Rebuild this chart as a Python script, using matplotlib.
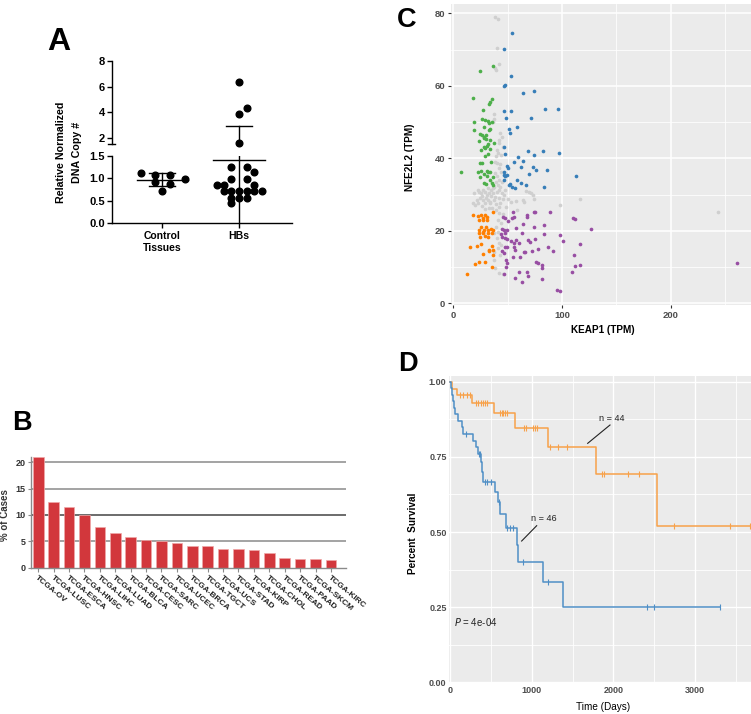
import numpy as np
import matplotlib
matplotlib.use("Agg")
import matplotlib.pyplot as plt
from matplotlib.ticker import MultipleLocator

plt.rcParams['font.family'] = ['Liberation Sans', 'DejaVu Sans']

W, H = 751, 714

# ---------------- Panel A data ----------------
groups_a = ["Control\nTissues", "HBs"]
control_vals = [1.13, 1.08, 1.08, 0.99, 0.92, 0.87, 0.71]
control_offsets = [-0.28, -0.095, 0.10, 0.295, -0.095, 0.10, 0.0]
hb_vals = [6.39, 4.36, 3.87, 1.59,
           1.25, 1.25, 1.14, 0.99, 0.99, 0.86, 0.86, 0.86,
           0.71, 0.71, 0.71, 0.71, 0.71, 0.71, 0.56, 0.56, 0.56, 0.45]
hb_offsets = [0.0, 0.11, 0.0, 0.0,
              -0.10, 0.10, 0.20, -0.10, 0.10, -0.29, -0.19, 0.20,
              -0.19, -0.10, 0.0, 0.10, 0.20, 0.30, -0.10, 0.0, 0.10, -0.10]
control_mean, control_sd = 0.97, 0.145
hb_mean, hb_sd = 1.40, 1.50

# ---------------- Panel B data ----------------
tcga = ["TCGA-OV", "TCGA-LUSC", "TCGA-ESCA", "TCGA-HNSC", "TCGA-LIHC", "TCGA-LUAD",
        "TCGA-BLCA", "TCGA-CESC", "TCGA-SARC", "TCGA-UCEC", "TCGA-BRCA", "TCGA-TGCT",
        "TCGA-UCS", "TCGA-STAD", "TCGA-KIRP", "TCGA-CHOL", "TCGA-READ", "TCGA-PAAD",
        "TCGA-SKCM", "TCGA-KIRC"]
pct_cases = [21.0, 12.5, 11.5, 10.0, 7.8, 6.5, 5.8, 5.3, 5.1, 4.7, 4.2, 4.05,
             3.6, 3.5, 3.35, 2.8, 1.8, 1.7, 1.7, 1.45]

# ---------------- Panel C data ----------------
grey_x = [38.8, 41.5, 40.0, 42.5, 38.8, 39.0, 37.8, 37.8, 36.3, 43.4,
          44.6, 41.8, 42.5, 45.5, 40.6, 41.5, 39.4, 38.5, 40.6, 41.8,
          43.7, 38.2, 40.0, 41.8, 40.9, 37.8, 43.1, 22.5, 24.0, 25.8,
          27.7, 28.9, 30.8, 33.2, 34.5, 36.3, 38.2, 40.0, 21.5, 22.8,
          24.6, 27.0, 29.5, 32.0, 34.2, 37.2, 39.4, 41.8, 43.1, 45.5,
          18.5, 20.3, 42.5, 45.0, 47.4, 67.1, 70.0, 71.7, 73.2, 64.0,
          65.0, 74.0, 53.0, 116.3, 97.8, 244.0, 39.4, 41.8, 40.9, 44.0,
          37.8, 40.0, 42.5, 40.9, 37.8, 43.1, 37.2, 38.8, 42.0, 45.5,
          30.0, 31.5, 35.0, 36.8, 33.5, 26.0, 44.5, 46.5, 39.0, 43.0,
          44.0, 46.0, 48.5, 50.5, 57.5, 58.5, 39.5, 41.5, 44.0, 36.0,
          42.0, 19.5, 26.5, 29.0, 32.5]
grey_y = [79.0, 78.5, 70.5, 66.0, 64.9, 64.4, 52.2, 50.9, 50.1, 46.9,
          46.0, 45.0, 44.1, 43.2, 42.3, 41.4, 40.5, 39.1, 38.6, 37.2,
          36.3, 35.9, 35.0, 34.0, 32.6, 32.2, 32.2, 31.3, 30.8, 30.3,
          31.3, 30.8, 29.9, 30.3, 31.3, 30.3, 29.4, 30.8, 28.5, 27.8,
          29.0, 28.5, 27.6, 28.5, 27.6, 28.5, 27.4, 29.0, 27.8, 28.7,
          27.6, 27.1, 31.3, 30.5, 31.3, 31.1, 30.7, 30.3, 29.9, 28.5,
          28.0, 28.7, 28.0, 28.9, 27.0, 25.3, 25.7, 24.8, 23.0, 22.1,
          19.3, 17.9, 16.6, 15.2, 14.1, 13.3, 12.0, 9.7, 8.3, 8.0,
          29.0, 31.8, 29.5, 31.9, 28.0, 29.5, 33.5, 30.0, 33.5, 38.5,
          40.8, 24.5, 26.5, 28.8, 28.2, 25.8, 21.0, 19.8, 16.0, 26.2,
          26.5, 30.5, 26.8, 26.0, 26.3]
green_x = [24.9, 36.3, 18.5, 36.0, 34.0, 33.2, 18.8, 18.8, 27.4, 26.5,
           28.9, 32.0, 33.2, 35.4, 28.6, 32.6, 34.2, 24.9, 26.8, 28.6,
           29.8, 24.0, 28.0, 30.5, 31.7, 34.2, 37.2, 28.0, 29.5, 30.8,
           33.5, 25.5, 32.0, 29.5, 24.6, 26.2, 35.0, 7.4, 22.8, 25.8,
           30.8, 32.3, 33.8, 28.6, 31.0, 36.3, 34.2, 24.6, 28.0, 30.2,
           35.7, 36.6]
green_y = [64.2, 65.5, 56.7, 56.3, 55.6, 55.0, 50.0, 47.8, 53.3, 50.9,
           50.6, 50.3, 49.7, 49.9, 48.5, 47.8, 48.0, 46.8, 46.4, 46.0,
           46.4, 44.7, 45.7, 45.3, 44.0, 45.0, 44.1, 43.2, 42.8, 43.5,
           42.6, 42.3, 41.1, 40.7, 38.6, 38.6, 39.0, 36.2, 36.3, 36.5,
           36.4, 36.2, 36.3, 35.7, 35.0, 34.9, 33.9, 34.8, 33.1, 32.8,
           33.1, 32.5]
blue_x = [54.2, 46.5, 53.5, 47.0, 48.0, 64.0, 74.5, 46.2, 53.5, 84.3,
          96.3, 71.7, 48.3, 50.8, 58.2, 52.0, 46.5, 69.0, 83.0, 97.5,
          47.4, 74.5, 60.0, 64.6, 56.0, 62.2, 73.0, 49.0, 50.5, 76.0,
          86.0, 46.5, 47.0, 47.4, 46.2, 49.5, 69.4, 113.0, 59.0, 62.0,
          66.5, 83.7, 52.0, 54.2, 56.6, 50.8]
blue_y = [74.5, 70.2, 62.7, 60.0, 60.2, 58.0, 58.6, 53.1, 53.1, 53.6,
          53.5, 51.0, 51.2, 48.2, 48.7, 46.9, 43.2, 42.1, 42.0, 41.6,
          41.1, 40.8, 40.3, 39.3, 39.0, 37.7, 37.7, 37.9, 37.2, 36.8,
          36.9, 36.1, 35.5, 35.1, 34.0, 35.4, 35.6, 35.0, 34.0, 33.3,
          32.6, 32.2, 32.8, 32.0, 31.9, 32.6]
orange_x = [18.5, 22.5, 25.5, 27.0, 28.9, 31.0, 36.3, 24.0, 27.7, 31.0,
            25.5, 30.2, 28.6, 27.0, 31.7, 34.8, 36.3, 23.4, 24.0, 27.7,
            32.3, 35.7, 24.6, 28.9, 31.7, 15.7, 21.8, 25.8, 35.7, 36.9,
            33.0, 36.3, 27.7, 33.2, 20.0, 24.0, 29.5, 35.7, 12.3]
orange_y = [24.4, 24.1, 24.3, 23.4, 24.4, 23.9, 25.1, 23.0, 23.0, 23.0,
            21.1, 21.1, 20.2, 19.8, 20.2, 20.4, 20.2, 20.2, 19.3, 19.3,
            19.3, 19.3, 18.4, 18.6, 18.4, 15.6, 15.8, 16.3, 15.9, 14.7,
            14.5, 13.3, 13.5, 14.8, 10.8, 11.5, 11.5, 10.1, 8.0]
purple_x = [55.4, 56.0, 53.8, 45.5, 47.4, 67.4, 68.0, 74.0, 75.3, 88.6,
            110.5, 112.0, 126.8, 45.0, 46.9, 49.3, 47.4, 44.3, 50.0, 64.0,
            62.8, 74.6, 83.4, 57.5, 48.0, 49.0, 45.2, 53.5, 55.7, 58.0,
            60.6, 68.9, 70.5, 75.3, 83.7, 97.8, 101.2, 116.9, 49.8, 47.4,
            56.0, 56.6, 65.0, 66.0, 72.6, 77.5, 86.8, 92.0, 44.9, 46.2,
            61.5, 48.6, 76.0, 77.8, 54.5, 81.8, 81.2, 49.5, 48.6, 60.3,
            68.0, 68.6, 57.0, 63.4, 81.2, 109.5, 112.0, 116.6, 111.0, 95.4,
            97.8, 261.0, 46.2]
purple_y = [25.1, 23.7, 23.4, 23.7, 23.4, 24.4, 23.7, 25.1, 25.1, 25.1,
            23.4, 23.2, 20.4, 20.4, 20.2, 20.2, 19.3, 19.0, 22.8, 21.9,
            19.3, 21.1, 21.6, 20.9, 18.1, 17.7, 18.2, 17.3, 16.6, 17.5,
            16.6, 17.5, 17.0, 17.7, 19.0, 18.9, 17.3, 16.3, 15.6, 15.4,
            15.6, 14.7, 14.2, 14.1, 14.3, 14.9, 15.4, 14.5, 14.3, 13.8,
            12.9, 12.0, 11.5, 11.2, 12.9, 9.7, 10.5, 11.0, 10.1, 8.7,
            8.5, 7.5, 7.1, 5.8, 6.6, 8.5, 10.4, 10.6, 13.2, 3.7,
            3.4, 11.0, 8.1]

# ---------------- Panel D data ----------------
hi_times = [0, 25, 90, 273, 542, 796, 1203, 1783, 2530, 3683]
hi_surv = [1.0, 0.977, 0.955, 0.928, 0.895, 0.847, 0.782, 0.693, 0.521, 0.521]
hi_censor = [122, 163, 204, 245, 318, 347, 376, 400, 429, 457, 612, 633, 653, 673, 694,
             906, 927, 1020, 1041, 1061, 1224, 1327, 1429, 1865, 1886, 2176, 2318,
             2735, 3429, 3673]
lo_times = [0, 8, 20, 33, 49, 61, 94, 143, 163, 278, 318, 347, 385, 395, 405, 551, 592,
            612, 686, 816, 829, 1143, 1388, 3298]
lo_surv = [1.0, 0.978, 0.957, 0.935, 0.913, 0.891, 0.870, 0.848, 0.826, 0.804, 0.783,
           0.761, 0.733, 0.700, 0.667, 0.632, 0.600, 0.560, 0.515, 0.457, 0.400, 0.333,
           0.250, 0.250]
lo_censor = [200, 355, 368, 429, 457, 498, 600, 702, 735, 767, 898, 1204, 2408, 2502, 3298]


def rect(l, t, r, b):
    return [l / W, 1 - b / H, (r - l) / W, (b - t) / H]


def ftext(x, y, s, **kw):
    return fig.text(x / W, 1 - y / H, s, **kw)


fig = plt.figure(figsize=(W / 100, H / 100), dpi=100)

# ================= Panel A =================
xl_a = (-0.656, 1.69)
axu = fig.add_axes(rect(112, 61, 292, 144.4))
axl = fig.add_axes(rect(112, 156, 292, 223.3))
for ax in (axu, axl):
    ax.set_xlim(*xl_a)
    ax.set_facecolor('none')
    for s in ('top', 'right'):
        ax.spines[s].set_visible(False)
    ax.spines['left'].set_linewidth(1.0)
    ax.tick_params(axis='y', direction='out', length=3.5, width=1.0, labelsize=8, pad=1.5)
axu.spines['bottom'].set_visible(False)
axu.set_xticks([])
axu.set_ylim(1.5, 8)
axu.set_yticks([2, 4, 6, 8])
axu.set_yticklabels(['2', '4', '6', '8'], fontweight='bold')
axu.plot([-4 / 180, 3 / 180], [0, 0], transform=axu.transAxes, color='black', lw=1.0, clip_on=False)
axl.set_ylim(0, 1.5)
axl.set_yticks([0, 0.5, 1.0, 1.5])
axl.set_yticklabels(['0.0', '0.5', '1.0', '1.5'], fontweight='bold')
axl.spines['bottom'].set_linewidth(1.0)
axl.set_xticks([0, 1])
axl.set_xticklabels(groups_a, fontweight='bold', fontsize=7.5, linespacing=1.2)
axl.tick_params(axis='x', direction='out', length=3.5, width=1.0, pad=2)

cx = [0 + o for o in control_offsets]
hx = np.array([1 + o for o in hb_offsets])
hv = np.array(hb_vals)
up = hv >= 1.5
axl.plot(cx, control_vals, 'o', color='black', ms=4.8, clip_on=False, zorder=3)
axl.plot(hx[~up], hv[~up], 'o', color='black', ms=4.8, clip_on=False, zorder=3)
axu.plot(hx[up], hv[up], 'o', color='black', ms=4.8, clip_on=False, zorder=3)
# control error bars
axl.plot([-0.33, 0.33], [control_mean] * 2, color='black', lw=1.0)
axl.plot([-0.17, 0.17], [control_mean + control_sd] * 2, color='black', lw=1.0)
axl.plot([-0.17, 0.17], [control_mean - control_sd] * 2, color='black', lw=1.0)
axl.plot([0, 0], [control_mean - control_sd, control_mean + control_sd], color='black', lw=1.0)
# HB error bars
axl.plot([0.66, 1.34], [hb_mean] * 2, color='black', lw=1.0)
axu.plot([0.83, 1.17], [hb_mean + hb_sd] * 2, color='black', lw=1.0)
axl.plot([1, 1], [max(hb_mean - hb_sd, 0), 1.5], color='black', lw=1.0)
axu.plot([1, 1], [1.5, hb_mean + hb_sd], color='black', lw=1.0)

ftext(69, 152, "Relative Normalized\nDNA Copy #", rotation=90, ha='center',
      va='center', fontsize=7.7, fontweight='bold', linespacing=1.7, multialignment='center')
ftext(47, 50, "A", fontsize=23, fontweight='bold', ha='left', va='baseline')

# ================= Panel B =================
axb = fig.add_axes(rect(31, 456.7, 346, 567.7))
xb = np.arange(len(tcga))
axb.set_xlim(-0.47, 19.98)
axb.set_ylim(0, 21.06)
for yv in [5, 10, 15, 20]:
    axb.axhline(yv, color='#444444' if yv == 10 else '#8A8A8A', lw=1.1, zorder=1)
axb.bar(xb, pct_cases, width=0.69, color='#D2373C', edgecolor='#F0A8A8', linewidth=0.5, zorder=2)
for s in ('top', 'right'):
    axb.spines[s].set_visible(False)
for s in ('left', 'bottom'):
    axb.spines[s].set_color('#8A8A8A')
    axb.spines[s].set_linewidth(1.0)
axb.set_yticks([0, 5, 10, 15, 20])
axb.set_yticklabels(['0', '5', '10', '15', '20'], fontweight='bold', fontsize=6.5, color='#333333')
axb.tick_params(axis='y', length=2, width=0.8, color='#8A8A8A', pad=2)
axb.set_xticks(xb)
axb.set_xticklabels(tcga, rotation=-40, ha='left', va='top', rotation_mode='anchor',
                    fontsize=6, fontweight='bold', color='#222222')
axb.tick_params(axis='x', length=3, width=0.8, color='#8A8A8A', pad=2)
ftext(5.5, 515, "% of Cases", rotation=90, ha='center', va='center', fontsize=7,
      fontweight='bold', color='#333333')
ftext(12, 430, "B", fontsize=19.5, fontweight='bold', ha='left', va='baseline')

# ================= Panel C =================
axc = fig.add_axes(rect(450.7, 4, 751, 305))
axc.set_facecolor('#EBEBEB')
axc.set_xlim(-2.4, 274)
axc.set_ylim(-0.47, 82.57)
axc.xaxis.set_major_locator(MultipleLocator(100))
axc.xaxis.set_minor_locator(MultipleLocator(50))
axc.yaxis.set_major_locator(MultipleLocator(20))
axc.yaxis.set_minor_locator(MultipleLocator(10))
axc.grid(which='major', color='white', lw=1.1)
axc.grid(which='minor', color='white', lw=0.55)
axc.set_axisbelow(True)
for s in axc.spines.values():
    s.set_visible(False)
axc.tick_params(which='major', length=2.5, width=0.8, color='#333333', labelsize=6.8,
                labelcolor='#4D4D4D', pad=1.5)
axc.tick_params(which='minor', length=0)
for lab in axc.get_xticklabels() + axc.get_yticklabels():
    lab.set_fontweight('bold')
sc = 7
axc.scatter(grey_x, grey_y, s=sc, color='#CFCFCF', linewidths=0, zorder=2)
axc.scatter(green_x, green_y, s=sc, color='#4DAF4A', linewidths=0, zorder=3)
axc.scatter(blue_x, blue_y, s=sc, color='#377EB8', linewidths=0, zorder=3)
axc.scatter(orange_x, orange_y, s=sc, color='#FF7F00', linewidths=0, zorder=3)
axc.scatter(purple_x, purple_y, s=sc, color='#984EA3', linewidths=0, zorder=3)
ftext(603, 330, "KEAP1 (TPM)", fontsize=7.2, fontweight='bold', ha='center', va='center')
ftext(410, 157, "NFE2L2 (TPM)", fontsize=7.2, fontweight='bold', ha='center', va='center',
      rotation=90)
ftext(396.5, 26.7, "C", fontsize=19.5, fontweight='bold', ha='left', va='baseline')

# ================= Panel D =================
axd = fig.add_axes(rect(449.3, 376, 751, 683.3))
axd.set_facecolor('#EBEBEB')
axd.set_xlim(-8, 3683)
axd.set_ylim(-0.0033, 1.019)
axd.xaxis.set_major_locator(MultipleLocator(1000))
axd.xaxis.set_minor_locator(MultipleLocator(500))
axd.yaxis.set_major_locator(MultipleLocator(0.25))
axd.yaxis.set_minor_locator(MultipleLocator(0.125))
axd.grid(which='major', color='white', lw=1.0)
axd.grid(which='minor', color='white', lw=0.6)
axd.set_axisbelow(True)
for s in axd.spines.values():
    s.set_visible(False)
axd.tick_params(which='major', length=0, labelsize=6.5, labelcolor='#4D4D4D', pad=2)
axd.tick_params(which='minor', length=0)
axd.set_yticks([0, 0.25, 0.5, 0.75, 1.0])
axd.set_yticklabels(['0.00', '0.25', '0.50', '0.75', '1.00'], fontweight='bold')
axd.set_xticks([0, 1000, 2000, 3000])
axd.set_xticklabels(['0', '1000', '2000', '3000'], fontweight='bold')

col_hi = '#F7A14A'
col_lo = '#4F8FC6'
for times, surv, cens, col in ((hi_times, hi_surv, hi_censor, col_hi),
                               (lo_times, lo_surv, lo_censor, col_lo)):
    axd.step(times, surv, where='post', color=col, lw=1.1, zorder=3)
    idx = np.searchsorted(np.array(times), np.array(cens), side='right') - 1
    cs = np.array(surv)[idx]
    axd.plot(cens, cs, linestyle='none', marker='|', ms=5, mew=0.8, color=col, zorder=4)

axd.text(1983, 0.862, "n = 44", fontsize=6.6, ha='center', va='bottom', color='#222222')
axd.plot([1958, 1685], [0.856, 0.795], color='#222222', lw=0.8)
axd.text(1147, 0.530, "n = 46", fontsize=6.6, ha='center', va='bottom', color='#222222')
axd.plot([1061, 877], [0.521, 0.470], color='#222222', lw=0.8)
axd.text(53, 0.199, r"$P$ = 4e-04", fontsize=7, ha='left', va='center', color='#222222')
ftext(603, 707, "Time (Days)", fontsize=7.2, ha='center', va='center')
ftext(413, 533, "Percent  Survival", fontsize=7.2, fontweight='bold', ha='center',
      va='center', rotation=90)
ftext(398, 371, "D", fontsize=19.5, fontweight='bold', ha='left', va='baseline')

fig.savefig("out.png", dpi=100)
